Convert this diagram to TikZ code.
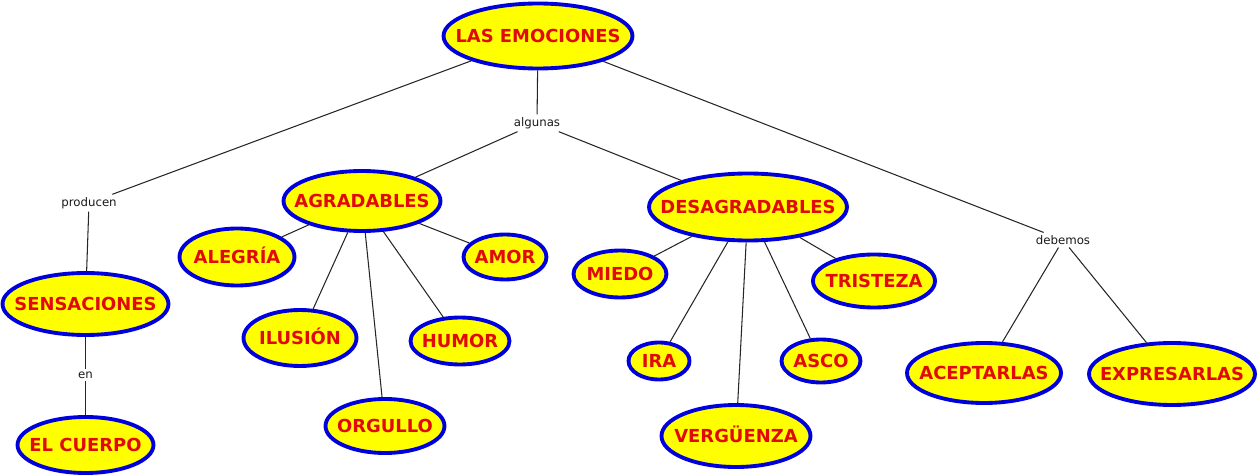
\documentclass[tikz,border=0pt]{standalone}
\usepackage{fontspec}
\usepackage{xcolor}
\usetikzlibrary{shapes.geometric}
\newfontfamily\mapfont{DejaVu Sans}
\definecolor{mapyellow}{RGB}{255,255,0}
\definecolor{mapblue}{RGB}{0,0,220}
\definecolor{mapred}{RGB}{225,10,10}
\newcommand{\ctxt}[1]{\makebox[0pt]{#1}}

\begin{document}
\begin{tikzpicture}[x=0.02cm, y=-0.02cm,
		concept/.style={ellipse, draw=mapblue, fill=mapyellow, line width=2.2pt,
			inner sep=0pt, text=mapred, text height=7.5pt, text depth=0pt,
			font=\mapfont\bfseries\fontsize{10.2}{12}\selectfont},
		link/.style={inner sep=1.5pt, text=black!90,
			font=\mapfont\fontsize{6.7}{8}\selectfont},
		conn/.style={line width=0.6pt, draw=black!85}
	]
		\useasboundingbox (0,0) rectangle (1258,476);
		\node[concept, minimum width=3.78cm, minimum height=1.30cm] (emo) at (538,36) {\ctxt{LAS EMOCIONES}};
		\node[link] (alg) at (537,123) {algunas};
		\node[link] (prod) at (89,203) {producen};
		\node[link] (deb) at (1063,240) {debemos};
		\node[link] (en) at (85.5,375) {en};
		\node[concept, minimum width=3.32cm, minimum height=1.24cm] (sens) at (85.5,304) {\ctxt{SENSACIONES}};
		\node[concept, minimum width=2.72cm, minimum height=1.12cm] (cuerpo) at (85.5,445) {\ctxt{EL CUERPO}};
		\node[concept, minimum width=3.14cm, minimum height=1.20cm] (agr) at (362,201) {\ctxt{AGRADABLES}};
		\node[concept, minimum width=2.30cm, minimum height=1.14cm] (aleg) at (237,257) {\ctxt{ALEGRÍA}};
		\node[concept, minimum width=1.66cm, minimum height=0.90cm] (amor) at (505,257) {\ctxt{AMOR}};
		\node[concept, minimum width=2.26cm, minimum height=1.12cm] (ilu) at (300,338) {\ctxt{ILUSIÓN}};
		\node[concept, minimum width=1.98cm, minimum height=0.94cm] (hum) at (460,341) {\ctxt{HUMOR}};
		\node[concept, minimum width=2.38cm, minimum height=1.08cm] (org) at (385,426) {\ctxt{ORGULLO}};
		\node[concept, minimum width=3.96cm, minimum height=1.34cm] (des) at (748,207) {\ctxt{DESAGRADABLES}};
		\node[concept, minimum width=1.86cm, minimum height=0.94cm] (miedo) at (620,274) {\ctxt{MIEDO}};
		\node[concept, minimum width=2.44cm, minimum height=1.06cm] (trist) at (874,281) {\ctxt{TRISTEZA}};
		\node[concept, minimum width=1.22cm, minimum height=0.74cm] (ira) at (659,361) {\ctxt{IRA}};
		\node[concept, minimum width=1.58cm, minimum height=0.86cm] (asco) at (821,361) {\ctxt{ASCO}};
		\node[concept, minimum width=2.98cm, minimum height=1.24cm] (verg) at (736,436) {\ctxt{VERGÜENZA}};
		\node[concept, minimum width=3.08cm, minimum height=1.20cm] (acep) at (984,373) {\ctxt{ACEPTARLAS}};
		\node[concept, minimum width=3.32cm, minimum height=1.24cm] (expr) at (1172,374) {\ctxt{EXPRESARLAS}};
		\foreach \a/\b in {emo/alg,emo/prod,emo/deb,alg/agr,alg/des,prod/sens,sens/en,en/cuerpo,
			agr/aleg,agr/ilu,agr/org,agr/hum,agr/amor,
			des/miedo,des/ira,des/verg,des/asco,des/trist,deb/acep,deb/expr}
			\draw[conn] (\a) -- (\b);
	\end{tikzpicture}
\end{document}
